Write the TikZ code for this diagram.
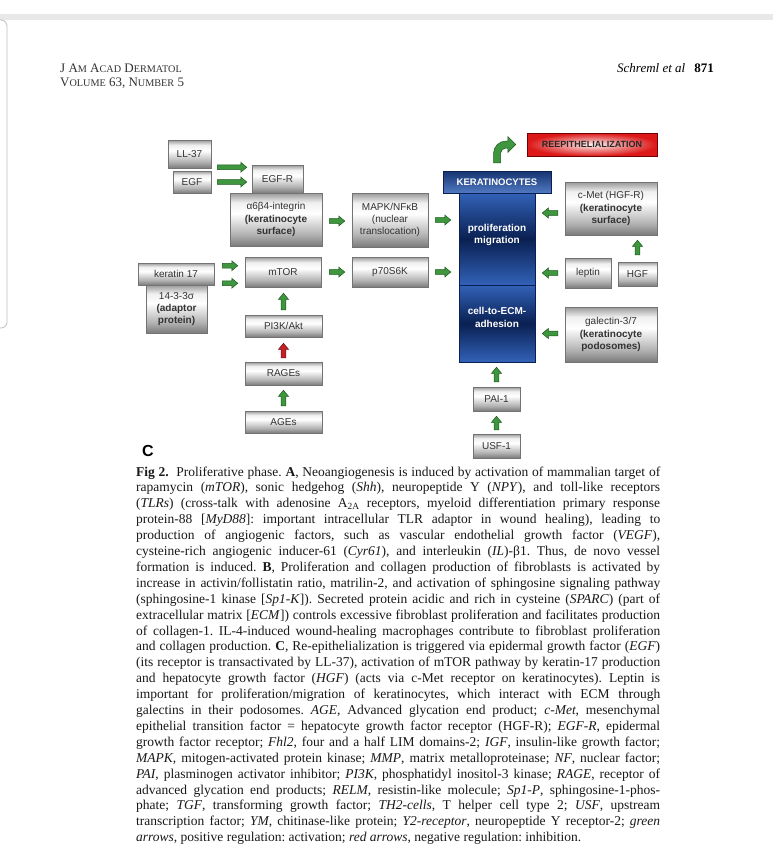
\documentclass[tikz,border=0pt]{standalone}
\usepackage{fontspec}
\setmainfont{Liberation Serif}
\newfontfamily\diagfont{Liberation Sans}
\usetikzlibrary{calc}
\definecolor{gfill}{RGB}{62,150,62}
\definecolor{gline}{RGB}{28,88,28}
\definecolor{rfill}{RGB}{196,32,40}
\definecolor{rline}{RGB}{110,18,22}
\definecolor{blueL}{RGB}{50,98,184}
\definecolor{blueD}{RGB}{10,32,82}
\definecolor{redE}{RGB}{220,24,24}
\pgfdeclareverticalshading{metal}{100bp}{color(0bp)=(black!52); color(25bp)=(black!52); color(36bp)=(black!30); color(56bp)=(white); color(66bp)=(black!6); color(75bp)=(black!40); color(100bp)=(black!40)}
\newcommand\capline[1]{\hbox to 524pt{#1}}
\newcommand\smc[1]{{\fontsize{10.2}{12}\selectfont #1}}
\tikzset{
  gbox/.style={draw=black!55, line width=0.5pt, shade, shading=metal, inner sep=1pt, align=center,
    font=\diagfont\fontsize{10}{12.3}\selectfont, text=black!80},
  colbox/.style={draw=blueD, line width=0.5pt, top color=blueL, bottom color=blueL, middle color=blueD, inner sep=0pt},
  coltext/.style={font=\diagfont\bfseries\fontsize{10}{12.5}\selectfont, text=white, align=center},
  arrR/.style={to path={let \p1=(\tikztostart),\p2=(\tikztotarget) in
    (\x1,\y1-2.3pt) -- (\x2-6pt,\y1-2.3pt) -- (\x2-6pt,\y1-5pt) -- (\x2,\y1) -- (\x2-6pt,\y1+5pt) -- (\x2-6pt,\y1+2.3pt) -- (\x1,\y1+2.3pt) -- cycle}},
  arrL/.style={to path={let \p1=(\tikztostart),\p2=(\tikztotarget) in
    (\x1,\y1-2.3pt) -- (\x2+6pt,\y1-2.3pt) -- (\x2+6pt,\y1-5pt) -- (\x2,\y1) -- (\x2+6pt,\y1+5pt) -- (\x2+6pt,\y1+2.3pt) -- (\x1,\y1+2.3pt) -- cycle}},
  arrU/.style={to path={let \p1=(\tikztostart),\p2=(\tikztotarget) in
    (\x1-2.3pt,\y1) -- (\x1-2.3pt,\y2-6pt) -- (\x1-5pt,\y2-6pt) -- (\x1,\y2) -- (\x1+5pt,\y2-6pt) -- (\x1+2.3pt,\y2-6pt) -- (\x1+2.3pt,\y1) -- cycle}},
  garrow/.style={fill=gfill, draw=gline, line width=0.5pt, line join=miter},
  rarrow/.style={fill=rfill, draw=rline, line width=0.5pt, line join=miter},
}
\begin{document}
\begin{tikzpicture}[x=1pt,y=-1pt]
\useasboundingbox (0,0) rectangle (773,863);
\fill[white] (0,0) rectangle (773,863);
% page frame
\fill[black!9] (0,14) rectangle (773,20);
\draw[black!25, line width=0.8pt, rounded corners=6pt] (-20,20) -- (7,20) -- (7,328) -- (-20,328);
% header
\node[anchor=base west, inner sep=0pt, font=\fontsize{13}{15}\selectfont, text=black!80] (hdA) at (60,72)
  {J A\smc{M} A\smc{CAD} D\smc{ERMATOL}};
\node[anchor=base west, inner sep=0pt, font=\fontsize{13}{15}\selectfont, text=black!80] (hdB) at (60,86)
  {V\smc{OLUME} 63, N\smc{UMBER} 5};
\node[anchor=base east, inner sep=0pt, font=\fontsize{13}{15}\selectfont] (hdC) at (714,72)
  {\textit{Schreml et al}\hspace{9pt}\textbf{871}};

% ---- gray boxes
\node[gbox, minimum width=43pt, minimum height=28pt] (ll37) at (189.5,154) {LL-37};
\node[gbox, minimum width=38pt, minimum height=22pt] (egf) at (192,182) {EGF};
\node[gbox, minimum width=92pt, minimum height=53pt] (integ) at (276,219.5)
  {α6β4-integrin\\\textbf{(keratinocyte}\\\textbf{surface)}};
\node[gbox, minimum width=51pt, minimum height=28pt] (egfr) at (277.5,179) {EGF-R};
\node[gbox, minimum width=76pt, minimum height=54pt] (mapk) at (390,220)
  {MAPK/NFκB\\(nuclear\\translocation)};
\node[gbox, minimum width=76pt, minimum height=30pt] (mtor) at (283,272) {mTOR};
\node[gbox, minimum width=76pt, minimum height=30pt] (p70) at (390,272) {p70S6K};
\node[gbox, minimum width=61pt, minimum height=48pt] (adapt) at (176.5,309)
  {14-3-3σ\\\textbf{(adaptor}\\\textbf{protein)}};
\node[gbox, minimum width=76pt, minimum height=22pt] (ker17) at (176,274) {keratin 17};
\node[gbox, minimum width=77pt, minimum height=22pt] (pi3k) at (283.5,326) {PI3K/Akt};
\node[gbox, minimum width=77pt, minimum height=23pt] (rages) at (283.5,373.5) {RAGEs};
\node[gbox, minimum width=77pt, minimum height=22pt] (ages) at (283.5,422) {AGEs};
\node[gbox, minimum width=92pt, minimum height=53pt] (cmet) at (611,208.5)
  {c-Met (HGF-R)\\\textbf{(keratinocyte}\\\textbf{surface)}};
\node[gbox, minimum width=46pt, minimum height=30pt] (leptin) at (588,273) {leptin};
\node[gbox, minimum width=39pt, minimum height=24pt] (hgf) at (637.5,274) {HGF};
\node[gbox, minimum width=92pt, minimum height=55pt] (galect) at (611,334.5)
  {galectin-3/7\\\textbf{(keratinocyte}\\\textbf{podosomes)}};
\node[gbox, minimum width=47pt, minimum height=24pt] (pai) at (496.5,399) {PAI-1};
\node[gbox, minimum width=47pt, minimum height=24pt] (usf) at (496.5,446) {USF-1};

% ---- blue keratinocyte column
\node[colbox, minimum width=76pt, minimum height=92pt,
  label={[coltext, yshift=4pt]center:{proliferation\\migration}}] (coltop) at (497,239) {};
\node[colbox, minimum width=76pt, minimum height=77pt,
  label={[coltext, yshift=6pt]center:{cell-to-ECM-\\adhesion}}] (colbot) at (497,323.5) {};
\node[draw=blueD, line width=0.5pt, top color=blueD!70!blueL, bottom color=blueL!85!white,
  minimum width=108pt, minimum height=22pt, inner sep=0pt,
  font=\diagfont\bfseries\fontsize{9.5}{11}\selectfont, text=white] (kerhead) at (497,182) {KERATINOCYTES};

% ---- reepithelialization
\node[draw=red!45!black, line width=0.5pt, inner color=red!6, outer color=redE,
  minimum width=130pt, minimum height=23pt, inner sep=0pt,
  font=\diagfont\bfseries\fontsize{9}{11}\selectfont, text=black!85] (reepi) at (592,144.5) {REEPITHELIALIZATION};

% ---- label C
\node[font=\diagfont\bfseries\fontsize{16}{16}\selectfont, inner sep=0pt] (lblC) at (148,451) {C};

% ---- arrows
\draw[garrow, arrR] ([shift={(6pt,1pt)}]ll37.south east) to ([xshift=-5pt]egfr.west);
\draw[garrow, arrR] ([xshift=6pt]egf.east) to ([xshift=-5pt]egfr.west);
\draw[garrow, arrR] ([shift={(7pt,-1.5pt)}]integ.east) to ([xshift=-7pt]mapk.west);
\draw[garrow, arrR] ([xshift=7pt]mapk.east) to ([xshift=-8pt]coltop.west);
\draw[garrow, arrR] ([shift={(8pt,-3pt)}]ker17.north east) to ([xshift=-7pt]mtor.west);
\draw[garrow, arrR] ([shift={(8pt,2pt)}]ker17.south east) to ([xshift=-7pt]mtor.west);
\draw[garrow, arrR] ([xshift=8pt]mtor.east) to ([xshift=-7pt]p70.west);
\draw[garrow, arrR] ([xshift=7pt]p70.east) to ([xshift=-8pt]coltop.west);
\draw[garrow, arrL] ([shift={(-7pt,-4.5pt)}]cmet.west) to ([xshift=7pt]coltop.east);
\draw[garrow, arrL] ([xshift=-7pt]leptin.west) to ([xshift=7pt]coltop.east);
\draw[garrow, arrL] ([shift={(-7pt,1pt)}]galect.west) to ([xshift=7pt]colbot.east);
\draw[garrow, arrU] ([yshift=7pt]hgf.north) to ([yshift=-5pt]cmet.south);
\draw[garrow, arrU] ([yshift=5pt]pi3k.north) to ([yshift=-6pt]mtor.south);
\draw[rarrow, arrU] ([yshift=4pt]rages.north) to ([yshift=-6pt]pi3k.south);
\draw[garrow, arrU] ([yshift=5pt]ages.north) to ([yshift=-5pt]rages.south);
\draw[garrow, arrU] ([yshift=5pt]pai.north) to ([yshift=-5pt]colbot.south);
\draw[garrow, arrU] ([yshift=4pt]usf.north) to ([yshift=-5pt]pai.south);
% bent arrow keratinocytes -> reepithelialization
\draw[garrow] let \p1=([yshift=8pt]kerhead.north), \p2=([xshift=-11pt]reepi.west) in
  (\x1-3.5pt,\y1) -- (\x1-3.5pt,\y2-9pt)
  .. controls (\x1-3.5pt,\y2-2.1pt) and (\x1+2.1pt,\y2+3.5pt) .. (\x1+9pt,\y2+3.5pt)
  -- (\x2-8pt,\y2+3.5pt) -- (\x2-8pt,\y2+8pt) -- (\x2,\y2) -- (\x2-8pt,\y2-8pt) -- (\x2-8pt,\y2-3.5pt)
  -- (\x1+9pt,\y2-3.5pt)
  .. controls (\x1+6pt,\y2-3.5pt) and (\x1+3.5pt,\y2-6pt) .. (\x1+3.5pt,\y2-9pt)
  -- (\x1+3.5pt,\y1) -- cycle;

% ---- caption
\node[anchor=base west, inner sep=0pt, text=black!90] (caption) at (136,476) {\vtop{%
\fontsize{13.5}{15.9}\selectfont\frenchspacing
\capline{\textbf{Fig 2.}\ \ Proliferative phase. \textbf{A}, Neoangiogenesis is induced by activation of mammalian target of}
\capline{rapamycin (\textit{mTOR}), sonic hedgehog (\textit{Shh}), neuropeptide Y (\textit{NPY}), and toll-like receptors}
\capline{(\textit{TLRs}) (cross-talk with adenosine A\textsubscript{2A} receptors, myeloid differentiation primary response}
\capline{protein-88 [\textit{MyD88}]: important intracellular TLR adaptor in wound healing), leading to}
\capline{production of angiogenic factors, such as vascular endothelial growth factor (\textit{VEGF}),}
\capline{cysteine-rich angiogenic inducer-61 (\textit{Cyr61}), and interleukin (\textit{IL})-β1. Thus, de novo vessel}
\capline{formation is induced. \textbf{B}, Proliferation and collagen production of fibroblasts is activated by}
\capline{increase in activin/follistatin ratio, matrilin-2, and activation of sphingosine signaling pathway}
\capline{(sphingosine-1 kinase [\textit{Sp1-K}]). Secreted protein acidic and rich in cysteine (\textit{SPARC}) (part of}
\capline{extracellular matrix [\textit{ECM}]) controls excessive fibroblast proliferation and facilitates production}
\capline{of collagen-1. IL-4-induced wound-healing macrophages contribute to fibroblast proliferation}
\capline{and collagen production. \textbf{C}, Re-epithelialization is triggered via epidermal growth factor (\textit{EGF})}
\capline{(its receptor is transactivated by LL-37), activation of mTOR pathway by keratin-17 production}
\capline{and hepatocyte growth factor (\textit{HGF}) (acts via c-Met receptor on keratinocytes). Leptin is}
\capline{important for proliferation/migration of keratinocytes, which interact with ECM through}
\capline{galectins in their podosomes. \textit{AGE}, Advanced glycation end product; \textit{c-Met}, mesenchymal}
\capline{epithelial transition factor = hepatocyte growth factor receptor (HGF-R); \textit{EGF-R}, epidermal}
\capline{growth factor receptor; \textit{Fhl2}, four and a half LIM domains-2; \textit{IGF}, insulin-like growth factor;}
\capline{\textit{MAPK}, mitogen-activated protein kinase; \textit{MMP}, matrix metalloproteinase; \textit{NF}, nuclear factor;}
\capline{\textit{PAI}, plasminogen activator inhibitor; \textit{PI3K}, phosphatidyl inositol-3 kinase; \textit{RAGE}, receptor of}
\capline{advanced glycation end products; \textit{RELM}, resistin-like molecule; \textit{Sp1-P}, sphingosine-1-phos-}
\capline{phate; \textit{TGF}, transforming growth factor; \textit{TH2-cells}, T helper cell type 2; \textit{USF}, upstream}
\capline{transcription factor; \textit{YM}, chitinase-like protein; \textit{Y2-receptor}, neuropeptide Y receptor-2; \textit{green}}
\hbox{\textit{arrows}, positive regulation: activation; \textit{red arrows}, negative regulation: inhibition.}
}};
\end{tikzpicture}
\end{document}
